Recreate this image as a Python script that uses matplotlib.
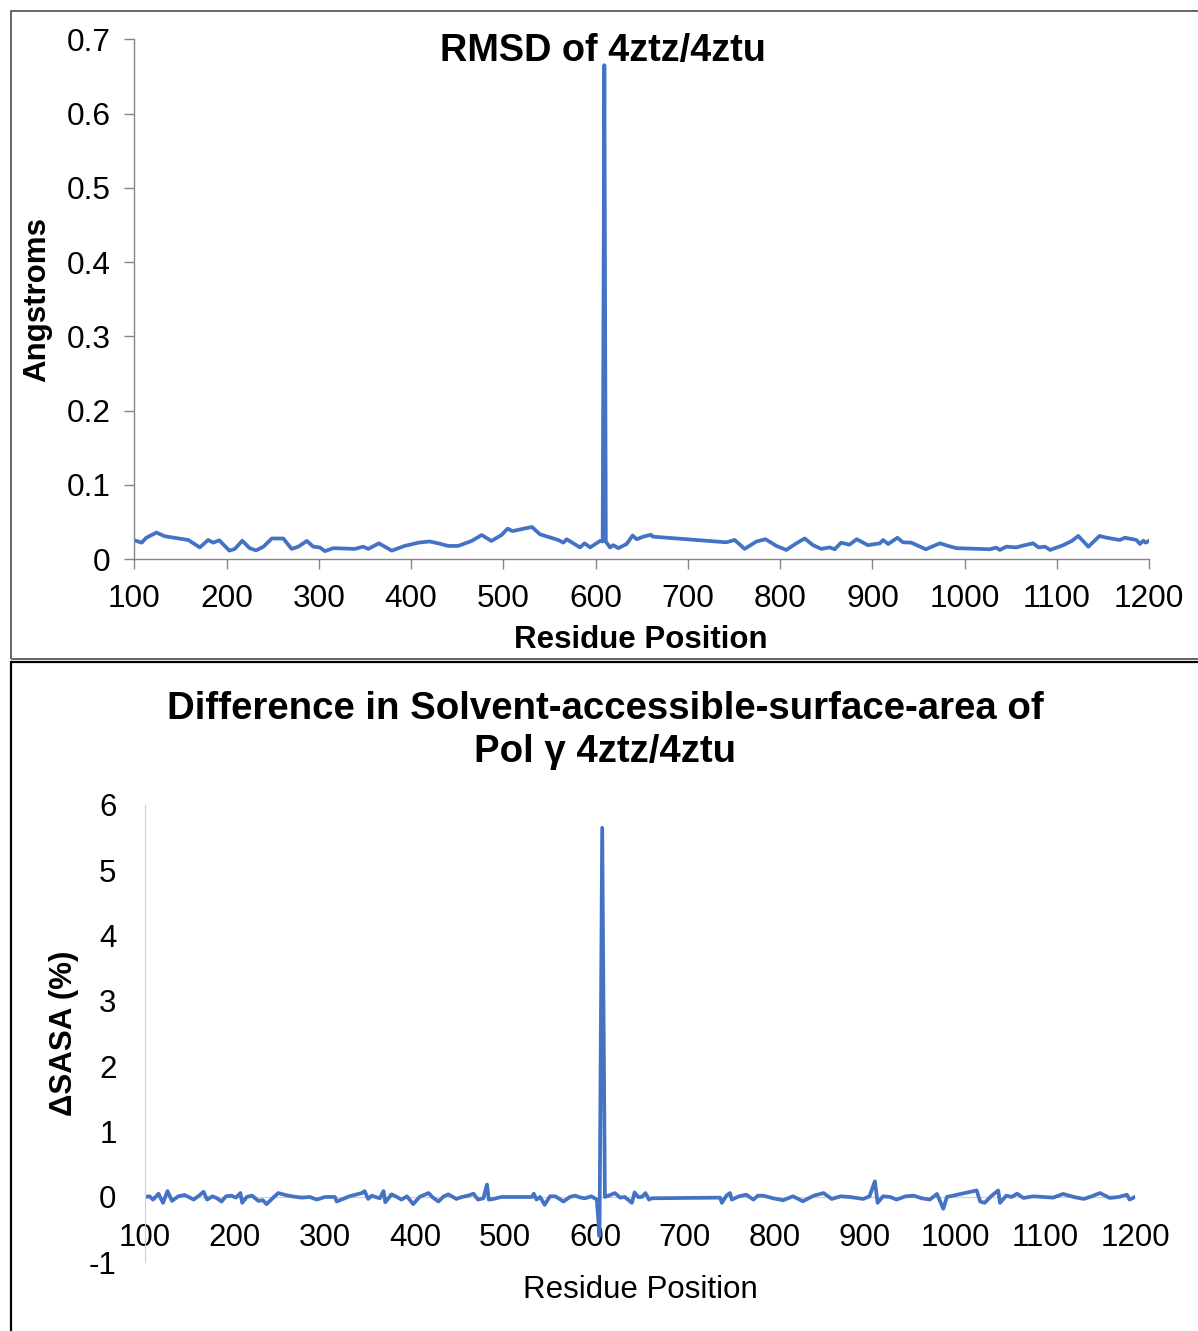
import matplotlib
matplotlib.use("Agg")
import matplotlib.pyplot as plt
from matplotlib.patches import Rectangle

plt.rcParams['font.family'] = ['Liberation Sans', 'DejaVu Sans']

# ---------------- data ----------------
rmsd_x = [99, 108, 113, 124, 133, 158.5, 171, 180, 185.6, 192, 203, 209, 217, 225, 232, 240,
          249, 261.5, 270.5, 277.7, 287, 294, 301, 306.6, 315.7, 339, 348, 353.6, 365, 379,
          393, 408, 420, 429.5, 440, 451, 465.6, 476.4, 487, 498, 504.6, 509.7, 531, 539.7,
          559.5, 565, 568.6, 583, 588, 594, 604.7, 607.6, 609.4, 611, 615.5, 619, 624.6,
          633.6, 640, 644.5, 651.7, 660, 662, 741.6, 750.6, 761.5, 774, 784, 796, 806.6,
          817.5, 826.5, 835.6, 844.6, 853.6, 859, 866, 875, 883, 895, 908, 911.5, 917, 927,
          933, 942, 957.8, 973, 982, 991, 1027, 1034, 1038, 1045, 1056, 1063, 1074, 1080,
          1087, 1092.6, 1106.7, 1116, 1123, 1134, 1146, 1154, 1168, 1173.6, 1186, 1190,
          1193.5, 1196, 1200]
rmsd_y = [0.026, 0.0224, 0.029, 0.036, 0.031, 0.026, 0.016, 0.026, 0.0224, 0.0256, 0.0117,
          0.014, 0.025, 0.015, 0.012, 0.017, 0.028, 0.028, 0.014, 0.017, 0.0247, 0.017, 0.016,
          0.011, 0.015, 0.014, 0.017, 0.014, 0.0215, 0.0117, 0.018, 0.0224, 0.024, 0.0215,
          0.018, 0.018, 0.0247, 0.0327, 0.0247, 0.0327, 0.0413, 0.038, 0.0435, 0.0336, 0.026,
          0.0224, 0.027, 0.016, 0.0215, 0.016, 0.0247, 0.024, 0.665, 0.024, 0.016, 0.019,
          0.015, 0.0206, 0.032, 0.027, 0.0305, 0.033, 0.0305, 0.0229, 0.026, 0.014, 0.0238,
          0.027, 0.018, 0.0126, 0.0215, 0.028, 0.019, 0.014, 0.016, 0.0135, 0.0224, 0.0197,
          0.027, 0.019, 0.0215, 0.026, 0.0206, 0.029, 0.0229, 0.0224, 0.0135, 0.0215, 0.018,
          0.015, 0.0135, 0.0157, 0.0126, 0.017, 0.016, 0.0184, 0.0215, 0.016, 0.017, 0.0126,
          0.019, 0.0247, 0.0314, 0.017, 0.0314, 0.029, 0.026, 0.029, 0.026, 0.0206, 0.025,
          0.0224, 0.025]

sasa_x = [100, 105, 109, 115, 120, 125, 130, 137, 144, 150, 154, 160, 165, 169, 175, 180,
          185, 190, 196, 201, 206, 208, 213, 219, 226, 231, 235, 241, 248, 256, 263, 274,
          283, 291, 300, 311, 313, 327, 341, 344, 348, 352, 356, 361, 365, 367, 374, 380,
          385, 391, 398, 405, 415, 420, 426, 432, 437, 446, 452, 459, 465, 470, 476, 480,
          482, 487, 496, 505, 514, 522, 530, 532, 535, 539, 544, 550, 556, 565, 572, 578,
          584, 589, 596, 602, 605, 608, 611, 617, 622, 628, 633, 641, 644, 648, 652, 656,
          660, 663, 739, 741, 746, 750, 752, 760, 768, 776, 781, 787, 798, 809, 820, 831,
          843, 854, 863, 873, 883, 898, 905, 911, 914, 920, 928, 935, 945, 954, 963, 972,
          980, 987, 991, 1024, 1028, 1033, 1040, 1048, 1050, 1057, 1063, 1069, 1076, 1087,
          1098, 1109, 1120, 1132, 1143, 1152, 1161, 1172, 1182, 1191, 1194, 1200]
sasa_y = [0.00, 0.01, -0.04, 0.05, -0.09, 0.09, -0.06, 0.01, 0.03, -0.01, -0.04, 0.02, 0.08,
          -0.04, 0.01, -0.02, -0.07, 0.01, 0.02, -0.01, 0.06, -0.09, 0.00, 0.02, -0.06, -0.05,
          -0.11, -0.03, 0.06, 0.03, 0.01, -0.01, 0.00, -0.04, 0.00, 0.00, -0.07, 0.01, 0.06,
          0.09, -0.03, 0.02, 0.00, -0.02, 0.09, -0.08, 0.04, 0.00, -0.04, 0.01, -0.11, 0.00,
          0.06, -0.01, -0.07, 0.01, 0.04, -0.03, 0.00, 0.02, 0.05, -0.04, -0.02, 0.19, -0.04,
          -0.03, 0.00, 0.00, 0.00, 0.00, 0.00, 0.05, -0.04, 0.00, -0.12, 0.01, 0.01, -0.07,
          0.00, 0.02, -0.01, -0.02, 0.01, -0.04, -0.60, 5.65, 0.00, 0.03, 0.06, -0.01, 0.00,
          -0.09, 0.07, 0.00, 0.00, 0.06, -0.04, -0.02, -0.01, -0.09, 0.02, 0.06, -0.04, 0.01,
          0.035, -0.04, 0.02, 0.02, -0.02, -0.05, 0.01, -0.066, 0.02, 0.06, -0.03, 0.01, 0.00,
          -0.03, 0.01, 0.24, -0.09, 0.01, 0.00, -0.04, 0.01, 0.02, -0.02, -0.04, 0.046, -0.18,
          0.00, 0.10, -0.07, -0.09, 0.01, 0.10, -0.09, 0.02, 0.00, 0.05, -0.015, 0.01, 0.00,
          -0.01, 0.046, 0.00, -0.03, 0.01, 0.06, -0.015, 0.00, 0.035, -0.04, 0.00]

x_ticks = [100, 200, 300, 400, 500, 600, 700, 800, 900, 1000, 1100, 1200]
rmsd_ticks = [0, 0.1, 0.2, 0.3, 0.4, 0.5, 0.6, 0.7]
rmsd_ticklabels = ['0', '0.1', '0.2', '0.3', '0.4', '0.5', '0.6', '0.7']
sasa_ticks = [-1, 0, 1, 2, 3, 4, 5, 6]

title_top = 'RMSD of 4ztz/4ztu'
title_bottom = 'Difference in Solvent-accessible-surface-area of\nPol \u03b3 4ztz/4ztu'

# ---------------- figure ----------------
W, H = 1198, 1331
fig = plt.figure(figsize=(W / 100, H / 100), dpi=100)

def fx(px):
    return px / W

def fy(py):
    return 1 - py / H

line_color = '#4472C4'
axis_gray = '#868686'

# panel borders
fig.patches.append(Rectangle((fx(11), fy(659)), fx(1200) - fx(11), fy(11) - fy(659),
                             transform=fig.transFigure, fill=False, edgecolor='#595959',
                             linewidth=1.3, zorder=0))
fig.patches.append(Rectangle((fx(11), fy(1340)), fx(1200) - fx(11), fy(662) - fy(1340),
                             transform=fig.transFigure, fill=False, edgecolor='black',
                             linewidth=1.6, zorder=0))

# ---- top chart ----
ax1 = fig.add_axes([fx(134.3), fy(559.3), fx(1149.3) - fx(134.3), fy(39.2) - fy(559.3)])
ax1.plot(rmsd_x, rmsd_y, color=line_color, linewidth=2.7, solid_joinstyle='round')
ax1.set_xlim(100, 1200)
ax1.set_ylim(0, 0.7)
ax1.set_xticks(x_ticks)
ax1.set_xticklabels([str(t) for t in x_ticks])
ax1.set_yticks(rmsd_ticks)
ax1.set_yticklabels(rmsd_ticklabels)
for s in ['top', 'right']:
    ax1.spines[s].set_visible(False)
for s in ['left', 'bottom']:
    ax1.spines[s].set_color(axis_gray)
    ax1.spines[s].set_linewidth(1.0)
ax1.tick_params(axis='both', direction='out', length=7.2, width=1.0, color=axis_gray,
                labelsize=22.8, labelcolor='black')
ax1.tick_params(axis='x', pad=10.5)
ax1.tick_params(axis='y', pad=10)
ax1.patch.set_alpha(0)

fig.text(fx(603), fy(51), title_top, ha='center', va='center', fontsize=27.3,
         fontweight='bold')
fig.text(fx(641), fy(640), 'Residue Position', ha='center', va='center', fontsize=22.5,
         fontweight='bold')
fig.text(fx(37), fy(300), 'Angstroms', ha='center', va='center', fontsize=22.5,
         fontweight='bold', rotation=90)

# ---- bottom chart ----
ax2 = fig.add_axes([fx(145), fy(1262.3), fx(1135) - fx(145), fy(805) - fy(1262.3)])
ax2.plot(sasa_x, sasa_y, color=line_color, linewidth=2.7, solid_joinstyle='round')
ax2.set_xlim(100, 1200)
ax2.set_ylim(-1, 6)
ax2.set_xticks(x_ticks)
ax2.set_xticklabels([str(t) for t in x_ticks])
ax2.set_yticks(sasa_ticks)
ax2.set_yticklabels([str(t) for t in sasa_ticks])
for s in ['top', 'right']:
    ax2.spines[s].set_visible(False)
ax2.spines['bottom'].set_position(('data', 0))
ax2.spines['bottom'].set_color('#d0d0d0')
ax2.spines['left'].set_color('#d0d0d0')
ax2.spines['bottom'].set_zorder(0)
ax2.tick_params(axis='both', length=0, labelsize=22.5, labelcolor='black')
ax2.tick_params(axis='x', pad=18.5)
ax2.tick_params(axis='y', pad=20.5)
ax2.patch.set_alpha(0)

fig.text(fx(605), fy(730.5), title_bottom, ha='center', va='center', fontsize=27.6,
         fontweight='bold', linespacing=1.25)
fig.text(fx(640), fy(1290), 'Residue Position', ha='center', va='center', fontsize=22.5)
fig.text(fx(64), fy(1033), '\u0394SASA (%)', ha='center', va='center', fontsize=22.5,
         fontweight='bold', rotation=90)

fig.savefig('out.png', dpi=100)
